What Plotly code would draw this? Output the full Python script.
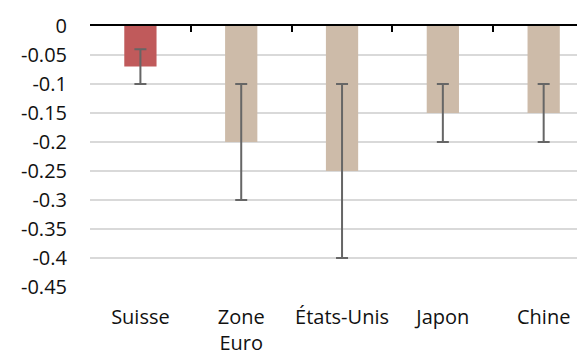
import plotly.graph_objects as go

categories = ["Suisse", "Zone<br>Euro", "États-Unis", "Japon", "Chine"]
values = [-0.07, -0.2, -0.25, -0.15, -0.15]
err_high = [-0.04, -0.1, -0.1, -0.1, -0.1]
err_low = [-0.1, -0.3, -0.4, -0.2, -0.2]
colors = ["#C05A5B", "#CDBBA9", "#CDBBA9", "#CDBBA9", "#CDBBA9"]
ytick_vals = [0, -0.05, -0.1, -0.15, -0.2, -0.25, -0.3, -0.35, -0.4, -0.45]

plus = [h - v for h, v in zip(err_high, values)]
minus = [v - l for l, v in zip(err_low, values)]

fig = go.Figure()
fig.add_trace(go.Bar(
    x=categories, y=values, marker=dict(color=colors, line=dict(width=0)),
    width=0.32,
    error_y=dict(type="data", symmetric=False, array=plus, arrayminus=minus,
                 color="#666666", thickness=2, width=6),
    showlegend=False, hoverinfo="skip",
))
fig.add_trace(go.Scatter(
    x=categories, y=values, xaxis="x2", mode="markers",
    marker=dict(opacity=0), showlegend=False, hoverinfo="skip",
))

font = dict(family="Open Sans, Noto Sans, sans-serif", size=20, color="#111111")
xr = [-0.5, 4.41]
# page body has an 8px default margin: figure is sized/offset to compensate
fig.update_layout(
    width=577, height=348,
    margin=dict(l=82, r=0, t=18, b=69, autoexpand=False),
    paper_bgcolor="white", plot_bgcolor="white",
    font=font,
    xaxis=dict(type="category", range=xr, showgrid=False, showline=False,
               ticks="", tickfont=font, fixedrange=True, automargin=False,
               ticklabelstandoff=16),
    xaxis2=dict(type="category", range=xr, overlaying="x", side="top",
                anchor="y", showline=True, linecolor="#000000", linewidth=2,
                ticks="inside", tickson="boundaries", ticklen=6,
                tickcolor="#000000", tickwidth=2, showticklabels=False,
                showgrid=False, automargin=False),
    yaxis=dict(range=[-0.45, 0], tickvals=ytick_vals,
               ticktext=[("%g" % v) for v in ytick_vals],
               showgrid=True, gridcolor="#D9D9D9", gridwidth=1.5,
               zeroline=False, showline=False, ticks="",
               ticklabelstandoff=22, tickfont=font, automargin=False),
)

fig.write_html("out.html")
